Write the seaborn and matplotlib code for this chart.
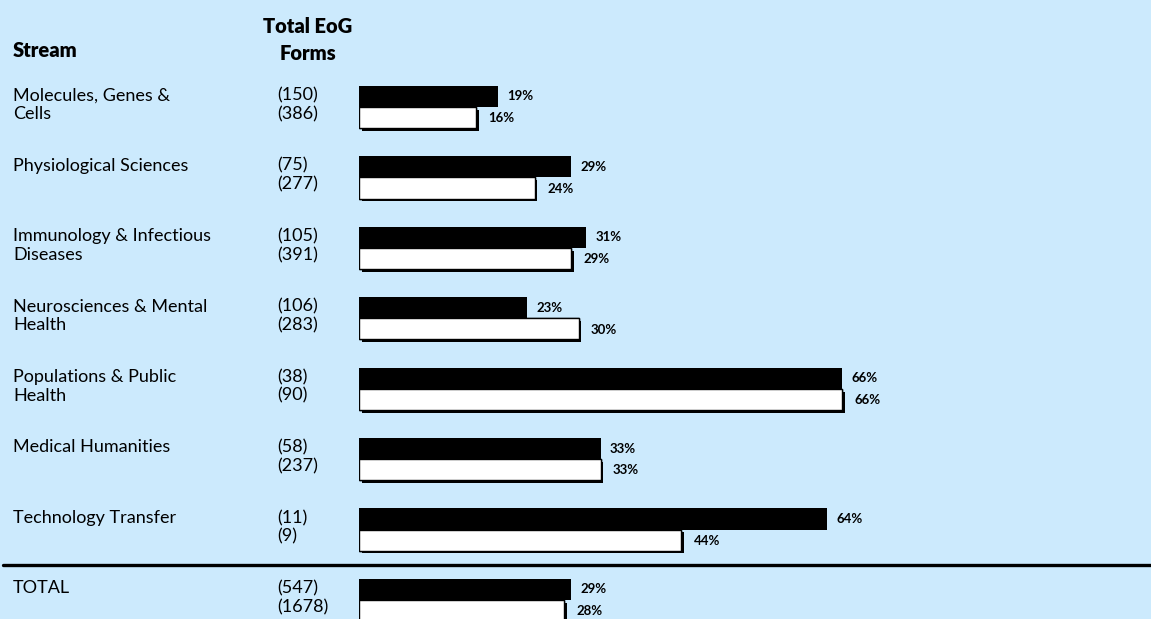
import numpy as np
import matplotlib
matplotlib.use("Agg")
import matplotlib.pyplot as plt
import matplotlib.patheffects as pe
import matplotlib.transforms as mtrans
import seaborn as sns
import pandas as pd

BG = "#CCEAFD"
FONT = ["Lato", "DejaVu Sans"]

streams = ["Molecules, Genes &\nCells", "Physiological Sciences",
           "Immunology & Infectious\nDiseases", "Neurosciences & Mental\nHealth",
           "Populations & Public\nHealth", "Medical Humanities",
           "Technology Transfer", "TOTAL"]
forms_a = [150, 75, 105, 106, 38, 58, 11, 547]
forms_b = [386, 277, 391, 283, 90, 237, 9, 1678]
pct_a = [19, 29, 31, 23, 66, 33, 64, 29]
pct_b = [16, 24, 29, 30, 66, 33, 44, 28]

df = pd.DataFrame({
    "stream": streams * 2,
    "pct": pct_a + pct_b,
    "series": ["a"] * len(streams) + ["b"] * len(streams),
})

sns.set_style("white")
plt.rcParams["font.family"] = FONT
plt.rcParams["text.color"] = "black"

W, H = 1151, 619
fig = plt.figure(figsize=(W / 100, H / 100), dpi=100, facecolor=BG)
# bars start at x=359px, 7.32 px per percent
ax = fig.add_axes([359 / W, 0, 1 - 359 / W, 1])
ax.set_facecolor("none")

sns.barplot(data=df, x="pct", y="stream", hue="series", orient="h",
            palette={"a": "black", "b": "white"}, width=0.6, dodge=True,
            legend=False, saturation=1, ax=ax)

for p in ax.patches:
    fc = p.get_facecolor()
    if fc[0] > 0.5:
        p.set_edgecolor("black")
        p.set_linewidth(1.0)
        p.set_path_effects([pe.withSimplePatchShadow(offset=(2, -2), shadow_rgbFace="black",
                                                     alpha=1.0), pe.Normal()])
    else:
        p.set_linewidth(0)

px_per = 7.32
ax.set_xlim(0, (W - 359) / px_per)
row = 70.4
ax.set_ylim(7 + (H - 600) / row, -107 / row)
ax.axis("off")

for i in range(len(streams)):
    ax.text(pct_a[i] + 1.3, i - 0.15, f"{pct_a[i]}%", va="center", ha="left",
            fontsize=9.5, fontweight="bold", family=FONT)
    ax.text(pct_b[i] + 1.7, i + 0.16, f"{pct_b[i]}%", va="center", ha="left",
            fontsize=9.5, fontweight="bold", family=FONT)

tr = mtrans.blended_transform_factory(fig.transFigure, ax.transData)
for i, s in enumerate(streams):
    ax.text(13 / W, i - 0.28, s, transform=tr, va="top", ha="left", fontsize=13,
            linespacing=1.2, family=FONT, clip_on=False)
    ax.text(277 / W, i - 0.28, f"({forms_a[i]})\n({forms_b[i]})", transform=tr,
            va="top", ha="left", fontsize=13, linespacing=1.2, family=FONT, clip_on=False)

line = plt.Line2D([0.003, 1], [6.5, 6.5], transform=tr, color="black", linewidth=2.4,
                  clip_on=False)
ax.add_line(line)

fig.text(13 / W, 1 - 57 / H, "Stream", va="baseline", ha="left", fontsize=14.5,
         fontweight="heavy", family=FONT)
fig.text(308 / W, 1 - 17 / H, "Total EoG\nForms", va="top", ha="center", fontsize=14.5,
         fontweight="heavy", linespacing=1.5, family=FONT)

fig.savefig("out.png", dpi=100, facecolor=BG)
